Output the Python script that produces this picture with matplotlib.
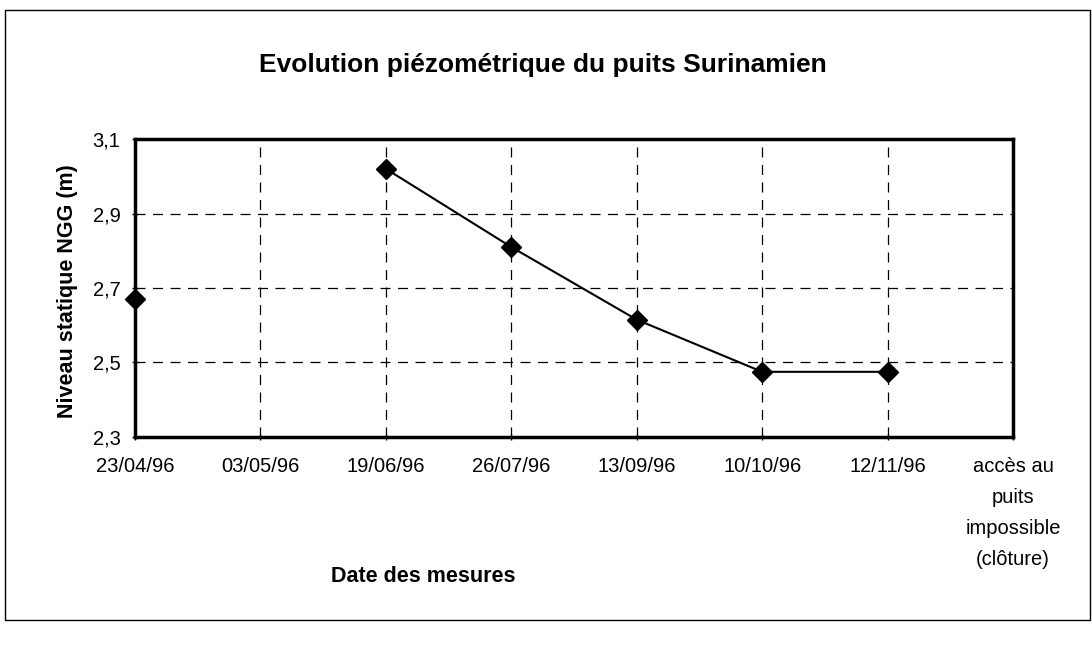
import numpy as np
import matplotlib.pyplot as plt
from matplotlib.patches import Rectangle

plt.rcParams['font.family'] = ['Liberation Sans', 'DejaVu Sans']

dates = ["23/04/96", "03/05/96", "19/06/96", "26/07/96", "13/09/96",
         "10/10/96", "12/11/96", "accès au\npuits\nimpossible\n(clôture)"]
niveau = [2.67, np.nan, 3.02, 2.81, 2.615, 2.475, 2.475, np.nan]
yticks = [2.3, 2.5, 2.7, 2.9, 3.1]

fig = plt.figure(figsize=(10.92, 6.46), dpi=100)
ax = fig.add_axes([135/1092, 1 - 437/646, (1013 - 135)/1092, (437 - 139)/646])

x = np.arange(len(dates))
ax.plot(x, niveau, color='black', lw=1.5, marker='D', ms=10.5, zorder=3, clip_on=False)

ax.set_xlim(0, len(dates) - 1)
ax.set_ylim(2.3, 3.1)
ax.set_xticks(x)
ax.set_xticklabels(dates, fontsize=14.5, linespacing=1.8, va='top')
ax.set_yticks(yticks)
ax.set_yticklabels([f"{v:.1f}".replace('.', ',') for v in yticks], fontsize=14.5)
ax.tick_params(direction='inout', length=5, width=1)
ax.tick_params(axis='x', pad=12)
ax.tick_params(axis='y', pad=8)

ax.grid(True, color='black', linestyle=(0, (8, 6)), linewidth=0.9)
ax.set_axisbelow(True)
for s in ax.spines.values():
    s.set_linewidth(2.5)

fig.text(543/1092, 1 - 65/646, "Evolution piézométrique du puits Surinamien",
         ha='center', va='center', fontsize=19, fontweight='bold')
fig.text(423/1092, 1 - 577/646, "Date des mesures",
         ha='center', va='center', fontsize=15.5, fontweight='bold')
fig.text(67/1092, 1 - 291/646, "Niveau statique NGG (m)",
         ha='center', va='center', rotation=90, fontsize=15.5, fontweight='bold')

# cadre autour du graphique
fig.patches.append(Rectangle((5/1092, 1 - 620/646), 1085/1092, 610/646,
                             transform=fig.transFigure, fill=False,
                             edgecolor='black', lw=1))

fig.savefig("out.png", dpi=100)
